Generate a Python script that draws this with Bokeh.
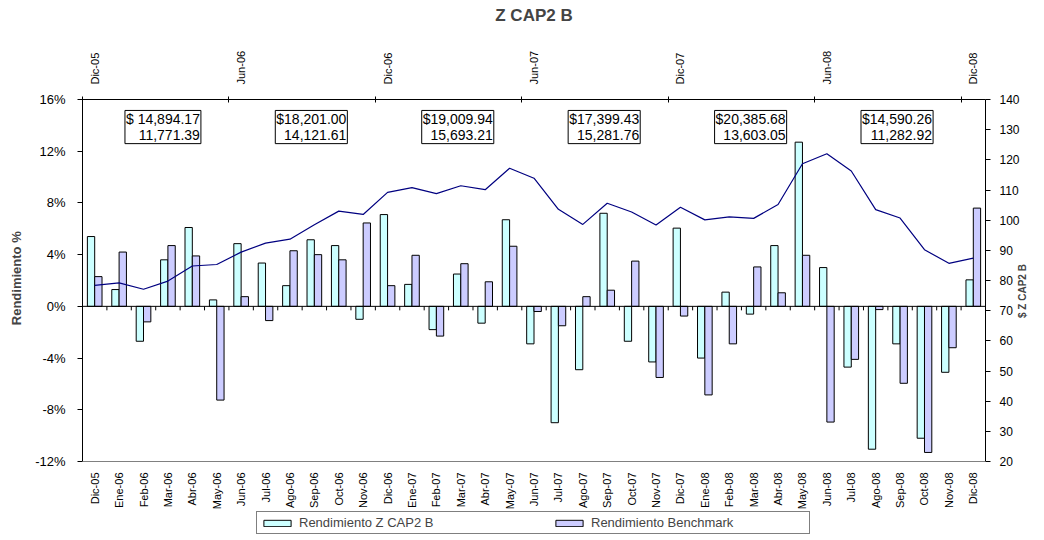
import math
from bokeh.plotting import figure
from bokeh.models import (Range1d, LinearAxis, FixedTicker, PrintfTickFormatter, Span,
                          Label, Legend, LegendItem, ColumnDataSource)
from bokeh.transform import dodge
from bokeh.embed import file_html
from bokeh.resources import INLINE

months = ["Dic-05", "Ene-06", "Feb-06", "Mar-06", "Abr-06", "May-06", "Jun-06", "Jul-06",
          "Ago-06", "Sep-06", "Oct-06", "Nov-06", "Dic-06", "Ene-07", "Feb-07", "Mar-07",
          "Abr-07", "May-07", "Jun-07", "Jul-07", "Ago-07", "Sep-07", "Oct-07", "Nov-07",
          "Dic-07", "Ene-08", "Feb-08", "Mar-08", "Abr-08", "May-08", "Jun-08", "Jul-08",
          "Ago-08", "Sep-08", "Oct-08", "Nov-08", "Dic-08"]

fund_ret = [5.4, 1.3, -2.7, 3.6, 6.1, 0.5, 4.85, 3.35, 1.6, 5.15, 4.7, -1.0,
            7.1, 1.7, -1.8, 2.5, -1.3, 6.7, -2.9, -9.0, -4.9, 7.2, -2.7, -4.3,
            6.05, -4.0, 1.1, -0.6, 4.7, 12.7, 3.0, -4.7, -11.05, -2.9, -10.2, -5.1, 2.05]

bench_ret = [2.3, 4.2, -1.2, 4.7, 3.9, -7.25, 0.75, -1.1, 4.3, 4.0, 3.6, 6.45,
             1.6, 3.95, -2.3, 3.3, 1.9, 4.65, -0.4, -1.5, 0.75, 1.25, 3.5, -5.5,
             -0.75, -6.85, -2.9, 3.05, 1.05, 3.95, -8.95, -4.1, -0.25, -5.95, -11.3, -3.2, 7.6]

fund_value = [78.4, 79.2, 77.1, 79.8, 84.8, 85.3, 89.4, 92.4, 93.7, 98.5, 103.0, 101.9,
              109.2, 110.8, 108.8, 111.4, 110.1, 117.2, 113.9, 103.6, 98.6, 105.6, 102.7, 98.4,
              104.3, 100.1, 101.1, 100.6, 105.2, 118.7, 122.0, 116.3, 103.5, 100.7, 90.2, 85.7, 87.4]

top_labels = ["Dic-05", "Jun-06", "Dic-06", "Jun-07", "Dic-07", "Jun-08", "Dic-08"]

box_months = ["Mar-06", "Sep-06", "Mar-07", "Sep-07", "Mar-08", "Sep-08"]
box_line1 = ["$ 14,894.17", "$18,201.00", "$19,009.94", "$17,399.43", "$20,385.68", "$14,590.26"]
box_line2 = ["11,771.39", "14,121.61", "15,693.21", "15,281.76", "13,603.05", "11,282.92"]

left_ticks = [-12, -8, -4, 0, 4, 8, 12, 16]
right_ticks = [20, 30, 40, 50, 60, 70, 80, 90, 100, 110, 120, 130, 140]

FONT = "Liberation Sans"
NBSP = "\u00a0"
n = len(months)
xc = [i + 0.5 for i in range(n)]

# layout constants (pixels)
W, H = 1042, 536
TOP, LEFT = 99, 82
RIGHT = W - 985
CHART_H = 362                 # height of the -12%..16% area
STRIP = H - TOP - CHART_H     # area below the chart for month labels and legend

l0, l1 = left_ticks[0], left_ticks[-1]
r0, r1v = right_ticks[0], right_ticks[-1]
l_per_px = (l1 - l0) / CHART_H
r_per_px = (r1v - r0) / CHART_H

src = ColumnDataSource(dict(x=xc, fund=fund_ret, bench=bench_ret, val=fund_value))

p = figure(width=W, height=H, x_range=Range1d(0, n),
           y_range=Range1d(l0 - STRIP * l_per_px, l1),
           x_axis_location="above",
           output_backend="svg", toolbar_location=None,
           min_border_left=LEFT, min_border_right=RIGHT, min_border_top=TOP, min_border_bottom=0)
p.extra_y_ranges = {"right": Range1d(r0 - STRIP * r_per_px, r1v)}
p.grid.grid_line_color = None
p.outline_line_color = None
p.background_fill_color = "white"

# bars
rb1 = p.vbar(x=dodge("x", -0.15), top="fund", bottom=0, width=0.3, source=src,
             fill_color="#CCFFFF", line_color="black", line_width=1)
rb2 = p.vbar(x=dodge("x", 0.15), top="bench", bottom=0, width=0.3, source=src,
             fill_color="#CCCCFF", line_color="black", line_width=1)

# zero line with category ticks, bottom border line
p.add_layout(Span(location=0, dimension="width", line_color="black", line_width=1))
p.add_layout(Span(location=l0, dimension="width", line_color="#808080", line_width=1))
bounds = list(range(1, n))
p.segment(x0=bounds, y0=[0] * len(bounds), x1=bounds, y1=[-4 * l_per_px] * len(bounds),
          line_color="black", line_width=1)

# line on secondary axis
p.line(x="x", y="val", source=src, y_range_name="right", line_color="#000080", line_width=1.2)

# month labels under the chart
p.text(x=xc, y=[l0 - 11 * l_per_px] * n, text=months, angle=math.pi / 2,
       text_align="right", text_baseline="middle", text_font_size="11px",
       text_font={"value": FONT}, text_color="black")

# top axis (with the chart title as its label)
top_pos = [xc[months.index(m)] for m in top_labels]
ta = p.xaxis[0]
ta.ticker = FixedTicker(ticks=top_pos, minor_ticks=[t - 0.5 for t in top_pos])
ta.major_label_overrides = {x: m for x, m in zip(top_pos, top_labels)}
ta.major_label_orientation = math.pi / 2
ta.major_tick_line_color = None
ta.major_tick_out = 0
ta.major_tick_in = 0
ta.minor_tick_line_color = "black"
ta.minor_tick_in = 3
ta.minor_tick_out = 3
ta.axis_line_color = "black"
ta.major_label_standoff = 12
ta.major_label_text_font = FONT
ta.major_label_text_font_size = "11px"
ta.major_label_text_color = "black"
ta.axis_label = "Z CAP2 B"
ta.axis_label_text_font = FONT
ta.axis_label_text_font_size = "17px"
ta.axis_label_text_font_style = "bold"
ta.axis_label_standoff = 23

# left axis
ya = p.yaxis[0]
ya.bounds = (l0, l1)
ya.ticker = FixedTicker(ticks=left_ticks, minor_ticks=[])
ya.formatter = PrintfTickFormatter(format="%d%%")
ya.major_tick_out = 5
ya.major_tick_in = 0
ya.major_label_standoff = 12
ya.major_label_text_font = FONT
ya.major_label_text_font_size = "13px"
ya.major_label_text_color = "black"
ya.axis_label = NBSP * 22 + "Rendimiento %"
ya.axis_label_text_font = FONT
ya.axis_label_text_font_size = "13px"
ya.axis_label_text_font_style = "bold"
ya.axis_label_standoff = 8

# right axis
ra = LinearAxis(y_range_name="right", bounds=(r0, r1v),
                ticker=FixedTicker(ticks=right_ticks, minor_ticks=[]))
ra.major_tick_out = 5
ra.major_tick_in = 0
ra.major_label_standoff = 9
ra.major_label_text_font = FONT
ra.major_label_text_font_size = "12px"
ra.major_label_text_color = "black"
ra.axis_label = "$ Z CAP2 B"
ra.axis_label_text_font = FONT
ra.axis_label_text_font_size = "10px"
ra.axis_label_text_font_style = "bold"
ra.axis_label_standoff = 0
ra.axis_label_orientation = math.pi / 2
p.add_layout(ra, "right")

# value boxes
for m, t1, t2 in zip(box_months, box_line1, box_line2):
    p.add_layout(Label(x=xc[months.index(m)], y=13.87, text=t1 + "\n" + t2,
                       text_align="right", text_baseline="middle", x_offset=33,
                       text_font=FONT, text_font_size="14px", text_line_height=0.95,
                       text_color="black", border_line_color="black", border_line_width=1,
                       background_fill_color="white", padding=1))

# legend below the month labels
legend = Legend(items=[LegendItem(label="Rendimiento Z CAP2 B", renderers=[rb1]),
                       LegendItem(label="Rendimiento Benchmark", renderers=[rb2])],
                orientation="horizontal", location=(174, 2),
                border_line_color="black", border_line_width=1,
                label_text_font=FONT, label_text_font_size="13px",
                glyph_width=34, glyph_height=8, label_width=215, label_height=14,
                label_standoff=5, padding=3, spacing=38, margin=0)
p.add_layout(legend)

open("out.html", "w").write(file_html(p, INLINE))
